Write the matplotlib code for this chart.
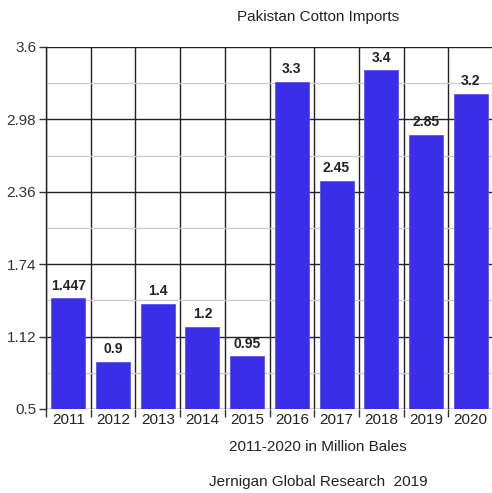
import numpy as np
import matplotlib.pyplot as plt

years = ['2011', '2012', '2013', '2014', '2015', '2016', '2017', '2018', '2019', '2020']
imports = [1.447, 0.9, 1.4, 1.2, 0.95, 3.3, 2.45, 3.4, 2.85, 3.2]
labels = ['1.447', '0.9', '1.4', '1.2', '0.95', '3.3', '2.45', '3.4', '2.85', '3.2']
yticks = [0.5, 1.12, 1.74, 2.36, 2.98, 3.6]

plt.rcParams['font.family'] = ['Liberation Sans', 'DejaVu Sans']

fig = plt.figure(figsize=(4.92, 4.93), dpi=100)
ax = fig.add_axes([46/492, 1 - 409/493, 447/492, 362/493])

x = np.arange(len(years))
ax.bar(x, imports, width=0.76, bottom=0, color='#3a2ee8', edgecolor='#5a55f0',
       linewidth=0.6, zorder=3)
for xi, v, s in zip(x, imports, labels):
    ax.text(xi, v + 0.05, s, ha='center', va='bottom', fontsize=10,
            fontweight='bold', color='#222222', zorder=4)

ax.set_ylim(0.5, 3.6)
ax.set_xlim(-0.5, 9.5)
ax.set_yticks(yticks)
ax.set_yticklabels([str(t) for t in yticks], fontsize=11, color='#333333')
ax.set_yticks([(a + b) / 2 for a, b in zip(yticks[:-1], yticks[1:])], minor=True)
ax.set_xticks(x)
ax.set_xticklabels(years, fontsize=11, color='#222222')
ax.set_xticks(np.arange(-0.5, 9.0, 1), minor=True)
ax.tick_params(axis='x', which='major', length=0, pad=3)
ax.tick_params(axis='x', which='minor', length=6, width=1, color='#333333')
ax.tick_params(axis='y', which='major', length=5, width=1, color='#333333', pad=2)
ax.tick_params(axis='y', which='minor', length=0)

ax.grid(axis='y', which='major', color='#222222', linewidth=1, zorder=1)
ax.grid(axis='y', which='minor', color='#cccccc', linewidth=1, zorder=1)
ax.grid(axis='x', which='minor', color='#222222', linewidth=1, zorder=1)
for side in ['top', 'right', 'bottom']:
    ax.spines[side].set_visible(False)
ax.spines['left'].set_color('#222222')
ax.spines['left'].set_linewidth(1)

fig.text(318/492, 1 - 17/493, 'Pakistan Cotton Imports', ha='center', va='center',
         fontsize=11, color='#222222')
fig.text(318/492, 1 - 447/493, '2011-2020 in Million Bales', ha='center', va='center',
         fontsize=11, color='#222222')
fig.text(318/492, 1 - 482/493, 'Jernigan Global Research  2019', ha='center', va='center',
         fontsize=11, color='#222222')

fig.savefig('out.png', dpi=100)
